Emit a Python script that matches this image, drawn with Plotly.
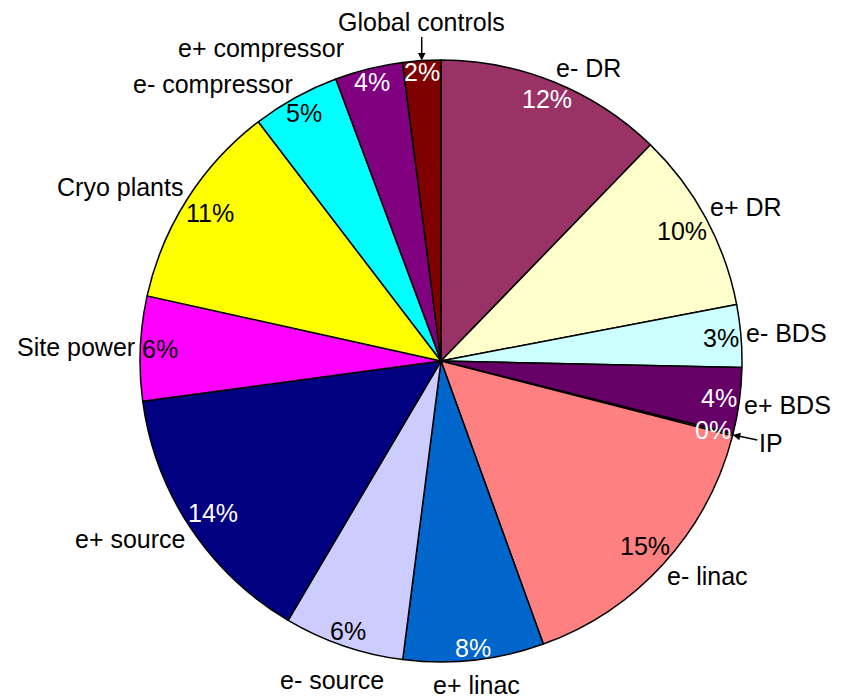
import math
import plotly.graph_objects as go

# ---------------- data ----------------
labels = ["e- DR", "e+ DR", "e- BDS", "e+ BDS", "IP", "e- linac", "e+ linac",
          "e- source", "e+ source", "Site power", "Cryo plants",
          "e- compressor", "e+ compressor", "Global controls"]
values = [12.25, 9.75, 3.35, 3.55, 0.1, 15.48, 7.55,
          6.45, 14.39, 5.6, 11.15, 4.7, 3.64, 2.04]
colors = ["#993366", "#FFFFCC", "#CCFFFF", "#660066", "#FF8080", "#FF8080", "#0066CC",
          "#CCCCFF", "#000080", "#FF00FF", "#FFFF00", "#00FFFF", "#800080", "#800000"]
pct_colors = ["white", "black", "black", "white", "white", "black", "white",
              "black", "white", "black", "black", "black", "white", "white"]
arrow_labels = {"Global controls": (0, -39), "IP": (38, 8)}

# ---------------- layout geometry ----------------
# page body adds an 8px offset; keep the figure inside the 843x700 window
W, H = 835, 692
ML, MT = 132, 52
PSIZE = 602
MR, MB = W - ML - PSIZE, H - MT - PSIZE
PW, PH = PSIZE, PSIZE
R = PSIZE / 2.0
FS = 25
FONT = "Liberation Sans, Arial, sans-serif"

CW = {'a': 556, 'b': 556, 'c': 500, 'd': 556, 'e': 556, 'i': 222, 'l': 222, 'm': 833,
      'n': 556, 'o': 556, 'p': 556, 'r': 333, 's': 500, 't': 278, 'u': 556, 'w': 722,
      'y': 500, ' ': 278, '-': 333, '+': 584, 'B': 667, 'C': 722, 'D': 722, 'G': 778,
      'I': 278, 'P': 667, 'R': 722, 'S': 667, '%': 889}


def text_w(s):
    return sum(CW.get(ch, 556) for ch in s) / 1000.0 * FS


def to_paper(dx, dy):
    return 0.5 + dx / PW, 0.5 - dy / PH


total = sum(values)
mids = []
acc = 0.0
for v in values:
    mids.append((acc + v / 2.0) / total * 360.0)
    acc += v

annotations = []

# percentages inside, at the rim
for lab, v, a, col in zip(labels, values, mids, pct_colors):
    txt = f"{int(v / total * 100 + 0.5)}%"
    ux, uy = math.sin(math.radians(a)), math.cos(math.radians(a))
    w, h2 = text_w(txt), 9.0
    d = R - 1 - (abs(ux) * w / 2 + abs(uy) * h2)
    x, y = to_paper(ux * d, -uy * d)
    annotations.append(dict(x=x, y=y, xref="paper", yref="paper", text=txt,
                            showarrow=False, xanchor="center", yanchor="middle",
                            font=dict(size=FS, color=col, family=FONT)))

# outside category labels
placed = []


def overlaps(b, gap=4):
    for o in placed:
        if b[0] < o[2] + gap and b[2] > o[0] - gap and b[1] < o[3] + gap and b[3] > o[1] - gap:
            return True
    return False


def pos_radial(a, w, h2):
    ux, uy = math.sin(math.radians(a)), math.cos(math.radians(a))
    d = R + 9 + abs(ux) * w / 2 + abs(uy) * h2
    return ux * d, -uy * d


def pos_corner(a, w, h2):
    ux, uy = math.sin(math.radians(a)), math.cos(math.radians(a))
    px, py = ux * (R + 5), -uy * (R + 5)
    sx = max(-1.0, min(1.0, ux / 0.35))
    sy = max(-1.0, min(1.0, uy / 0.35))
    return px + sx * w / 2, py - sy * 9


for lab, a in zip(labels, mids):
    if lab in arrow_labels:
        ax, ay = arrow_labels[lab]
        ux, uy = math.sin(math.radians(a)), math.cos(math.radians(a))
        tx, ty = ux * R, -uy * R
        x, y = to_paper(tx, ty)
        w = text_w(lab)
        placed.append((tx + ax - w / 2, ty + ay - 11, tx + ax + w / 2, ty + ay + 11))
        annotations.append(dict(x=x, y=y, xref="paper", yref="paper", text=lab,
                                showarrow=True, ax=ax, ay=ay, arrowhead=2, arrowsize=1,
                                arrowwidth=1.5, arrowcolor="black", standoff=0,
                                font=dict(size=FS, color="black", family=FONT)))

order = [i for i in range(len(labels) - 1, -1, -1) if labels[i] not in arrow_labels]
for i in order:
    lab = labels[i]
    a = mids[i]
    w, h2 = text_w(lab), 11.0
    if abs(math.sin(math.radians(a))) > 0.35:
        cx, cy = pos_corner(a, w, h2)
    else:
        cx, cy = pos_radial(a, w, h2)
    b = (cx - w / 2, cy - h2, cx + w / 2, cy + h2)
    while overlaps(b, 4):
        a -= 0.5
        cx, cy = pos_radial(a, w, h2)
        b = (cx - w / 2, cy - h2, cx + w / 2, cy + h2)
    placed.append(b)
    x, y = to_paper(cx, cy)
    annotations.append(dict(x=x, y=y, xref="paper", yref="paper", text=lab,
                            showarrow=False, xanchor="center", yanchor="middle",
                            font=dict(size=FS, color="black", family=FONT)))

fig = go.Figure(go.Pie(
    labels=labels, values=values, sort=False, direction="clockwise", rotation=0,
    marker=dict(colors=colors, line=dict(color="black", width=1.5)),
    textinfo="none", showlegend=False, hoverinfo="label+percent",
))
fig.update_layout(
    width=W, height=H, margin=dict(l=ML, r=MR, t=MT, b=MB, autoexpand=False),
    paper_bgcolor="white", plot_bgcolor="white",
    font=dict(family=FONT, size=FS, color="black"),
    annotations=annotations, showlegend=False,
)
fig.write_html("out.html")
